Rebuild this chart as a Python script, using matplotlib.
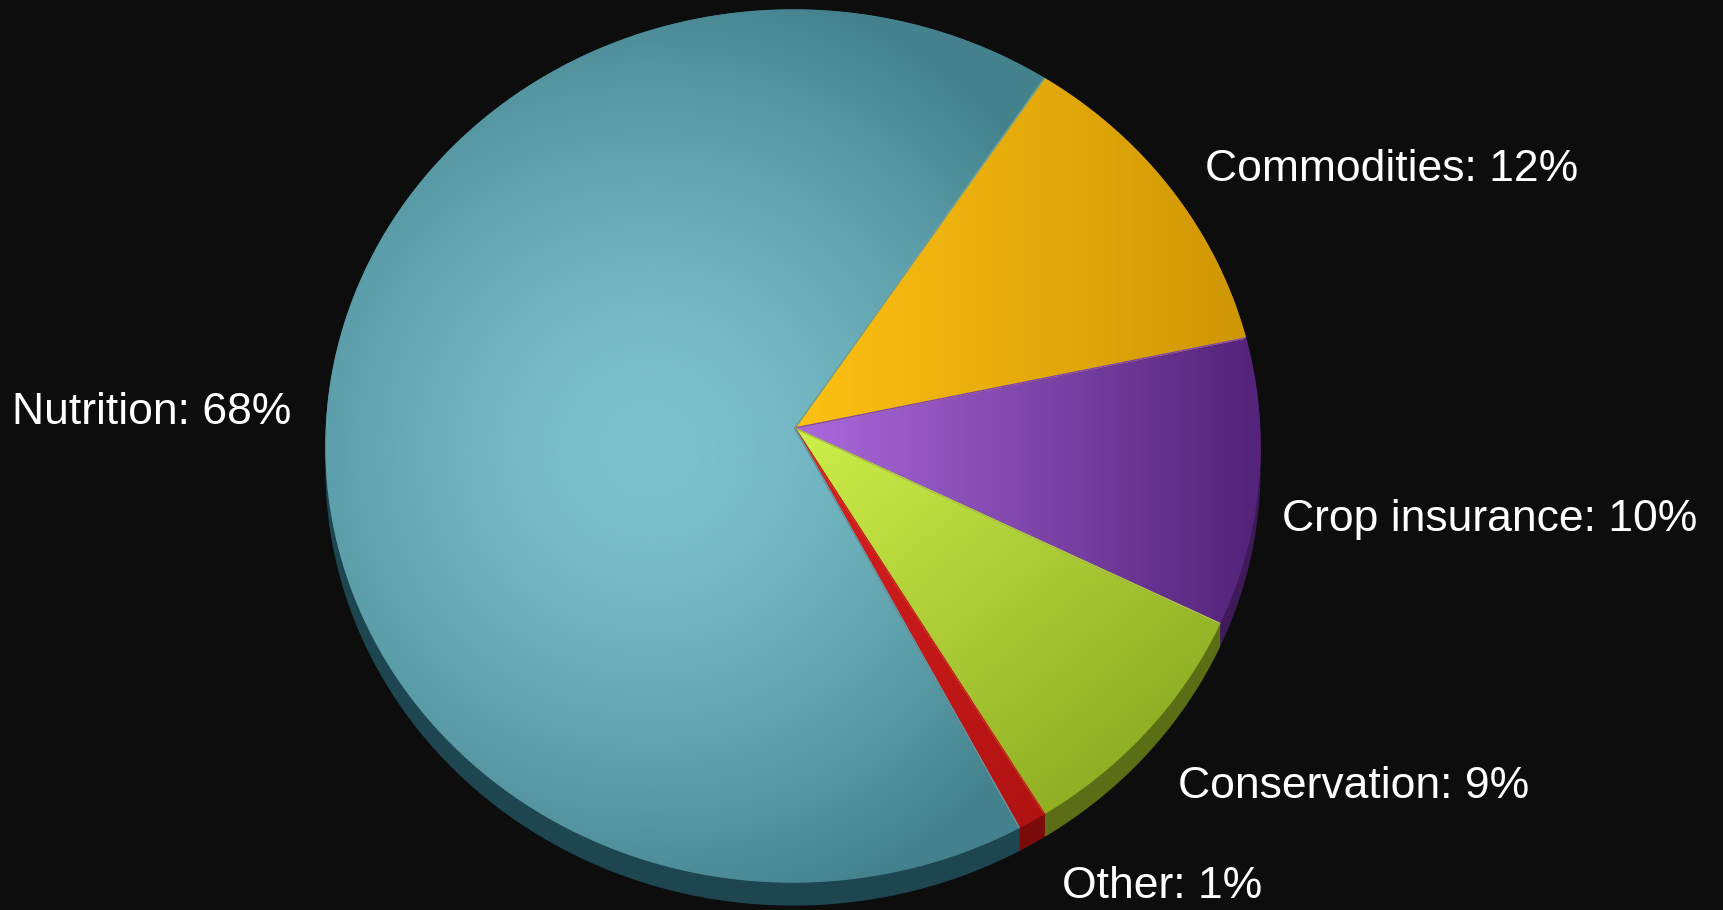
import numpy as np
import matplotlib
matplotlib.use("Agg")
import matplotlib.pyplot as plt
from matplotlib.patches import Polygon
from matplotlib.collections import LineCollection
from matplotlib.colors import to_rgb

# Farm bill outlays by category (percent of total), listed clockwise from the top
categories = ["Commodities", "Crop insurance", "Conservation", "Other", "Nutrition"]
shares = [12, 10, 9, 1, 68]

# Label anchors (left x, baseline y) in canvas pixels
label_x = [1205, 1282, 1178, 1062, 12]
label_y = [181, 531, 798, 898, 424]

W, H = 1723, 910
BG = "#0d0d0d"

# Pie geometry in canvas pixels: top-face ellipse, apex and extrusion depth
CX, CY, RX, RY = 793, 446, 467, 436
AX_, AY_ = 795, 428
DEPTH = 23
START = 54.5

# Top-face gradients: (kind, params, light colour, dark colour, gamma)
face_style = {
    "Commodities":    ("lin", (820, 330, 1240, 330), "#fbbe12", "#cf9705", 1.0),
    "Crop insurance": ("lin", (810, 430, 1250, 430), "#a968da", "#54237a", 1.0),
    "Conservation":   ("lin", (800, 430, 1120, 820), "#ccef4a", "#8aa920", 1.0),
    "Other":          ("lin", (800, 430, 1040, 820), "#dc2020", "#b01212", 1.0),
    "Nutrition":      ("rad", (650, 450, 480), "#7dc3cf", "#43828d", 1.5),
}
side_color = {
    "Commodities": "#8a6404",
    "Crop insurance": "#3e1a58",
    "Conservation": "#5c6e15",
    "Other": "#7a0b0b",
    "Nutrition": "#1d4650",
}


def rim(theta_deg):
    """Point where a ray from the apex at the given angle meets the rim ellipse."""
    th = np.radians(np.atleast_1d(theta_deg))
    ux, uy = np.cos(th), -np.sin(th)
    px, py = AX_ - CX, AY_ - CY
    a = ux**2 / RX**2 + uy**2 / RY**2
    b = 2 * (px * ux / RX**2 + py * uy / RY**2)
    c = px**2 / RX**2 + py**2 / RY**2 - 1
    t = (-b + np.sqrt(b**2 - 4 * a * c)) / (2 * a)
    return AX_ + t * ux, AY_ + t * uy


def gradient_t(style, xx, yy):
    kind, p = style[0], style[1]
    if kind == "lin":
        x0, y0, x1, y1 = p
        dx, dy = x1 - x0, y1 - y0
        t = ((xx - x0) * dx + (yy - y0) * dy) / (dx * dx + dy * dy)
    else:
        x0, y0, r = p
        t = np.hypot(xx - x0, yy - y0) / r
    return np.clip(t, 0, 1) ** style[4]


def shade(style, xx, yy):
    t = gradient_t(style, xx, yy)[..., None]
    c0 = np.array(to_rgb(style[2]))
    c1 = np.array(to_rgb(style[3]))
    return c0 + (c1 - c0) * t


fig = plt.figure(figsize=(W / 100, H / 100), dpi=100, facecolor=BG)
ax = fig.add_axes([0, 0, 1, 1])
ax.set_facecolor(BG)
ax.axis("off")

yy, xx = np.mgrid[0:H, 0:W] + 0.5

# Angular extent of each slice (clockwise from START)
cum = np.concatenate([[0], np.cumsum(shares)]) / np.sum(shares) * 360.0
bounds = [(START - cum[i], START - cum[i + 1]) for i in range(len(shares))]

# Extruded sides first
for cat, (a0, a1) in zip(categories, bounds):
    ang = np.linspace(a0, a1, max(3, int(abs(a1 - a0) * 3)))
    rxs, rys = rim(ang)
    sx = np.concatenate([rxs, rxs[::-1]])
    sy = np.concatenate([rys, rys[::-1] + DEPTH])
    ax.add_patch(Polygon(np.column_stack([sx, sy]), closed=True,
                         facecolor=side_color[cat], edgecolor=side_color[cat],
                         lw=0.8, zorder=1))

# Shaded top faces
for cat, (a0, a1) in zip(categories, bounds):
    ang = np.linspace(a0, a1, max(3, int(abs(a1 - a0) * 3)))
    rxs, rys = rim(ang)
    px = np.concatenate([[AX_], rxs])
    py = np.concatenate([[AY_], rys])
    verts = np.column_stack([px, py])
    style = face_style[cat]

    clip = Polygon(verts, closed=True, facecolor="none", edgecolor="none",
                   transform=ax.transData)
    ax.add_patch(clip)
    im = ax.imshow(shade(style, xx, yy), extent=(0, W, H, 0),
                   interpolation="bilinear", zorder=2)
    im.set_clip_path(clip)

    # antialiased outline tinted with the face gradient
    loop = np.vstack([verts, verts[:1]])
    segs = np.stack([loop[:-1], loop[1:]], axis=1)
    mid = segs.mean(axis=1)
    cols = shade(style, mid[:, 0], mid[:, 1])
    ax.add_collection(LineCollection(segs, colors=cols, linewidths=1.0,
                                     zorder=3, capstyle="round"))

ax.set_xlim(0, W)
ax.set_ylim(H, 0)
ax.set_aspect("auto")

for cat, share, lx, ly in zip(categories, shares, label_x, label_y):
    ax.text(lx, ly, f"{cat}: {share}%", color="white", fontsize=32,
            family=["Liberation Sans", "DejaVu Sans"],
            ha="left", va="baseline", zorder=5)

fig.savefig("out.png", dpi=100, facecolor=BG)
